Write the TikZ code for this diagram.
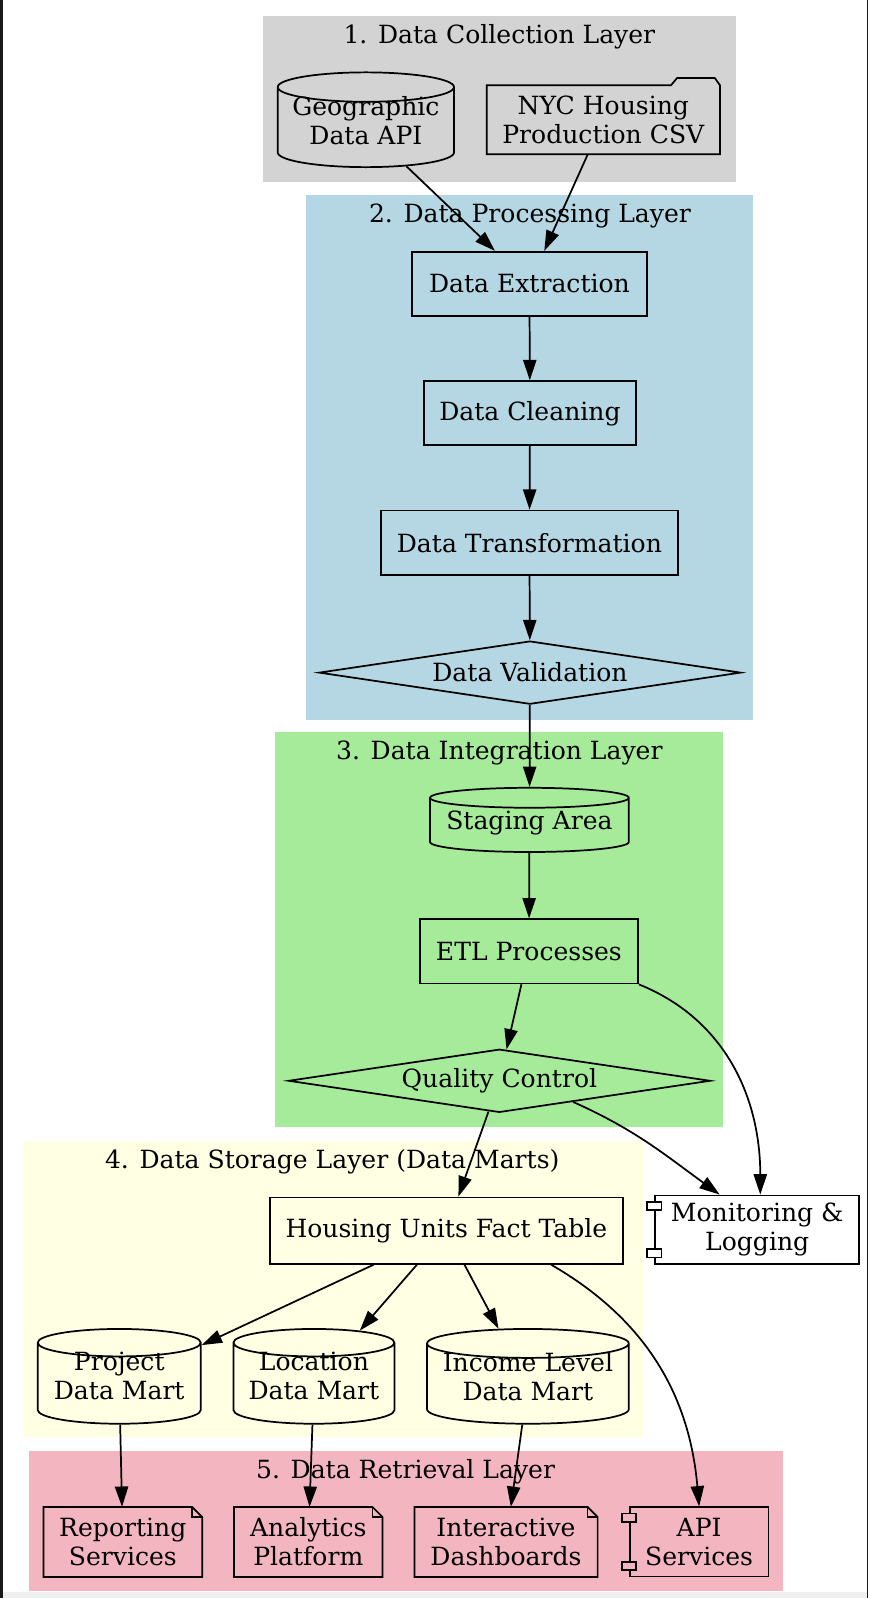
\documentclass[tikz,border=0pt]{standalone}
\usepackage{fontspec}
\setmainfont{DejaVu Serif}
\usetikzlibrary{shapes.geometric,arrows.meta}
\definecolor{collectgray}{HTML}{D3D3D3}
\definecolor{procblue}{HTML}{B4D7E3}
\definecolor{integgreen}{HTML}{A6EB9A}
\definecolor{storeyellow}{HTML}{FFFFE4}
\definecolor{retrpink}{HTML}{F3B6C1}
\newcommand{\dbtext}[2]{\raisebox{#1}[\dimexpr\height-2.5pt\relax][\dimexpr\depth-2.5pt\relax]{\begin{tabular}{@{}c@{}}#2\end{tabular}}}

\begin{document}
\begin{tikzpicture}[
		x=0.5pt, y=-0.5pt,
		font=\fontsize{12.3}{14.1}\selectfont,
		every node/.style={align=center, inner sep=0pt},
		box/.style={draw, line width=0.85pt, minimum height=31.5pt},
		db/.style={draw, line width=0.85pt, cylinder, shape border rotate=90, anchor=shape center},
		check/.style={draw, line width=0.85pt, diamond, aspect=6.7, minimum width=207pt, minimum height=31pt},
		flow/.style={line width=0.85pt, -{Triangle[length=10pt,width=6.5pt]}},
		outline/.style={line width=0.85pt},
	]
	\useasboundingbox (0,0) rectangle (852,1568);
	\fill[white] (0,0) rectangle (852,1568);
	\fill[black!90] (0,0) rectangle (3,1568);
	\fill[black!90] (851,0) rectangle (852,1568);
	\fill[black!6] (3,1562) rectangle (851,1568);

	\fill[collectgray] (258,16) rectangle (722,179);
	\fill[procblue] (300,191) rectangle (739,706);
	\fill[integgreen] (270,718) rectangle (709,1106);
	\fill[storeyellow] (23,1120) rectangle (631,1410);
	\fill[retrpink] (28,1424) rectangle (768,1561);
	\node (l1) at (490,36) {1. Data Collection Layer};
	\node (l2) at (520,212) {2. Data Processing Layer};
	\node (l3) at (490,739) {3. Data Integration Layer};
	\node (l4) at (326,1140) {4. Data Storage Layer (Data Marts)};
	\node (l5) at (398,1444) {5. Data Retrieval Layer};

	\node[db, fill=collectgray, minimum width=86.5pt, minimum height=46.5pt, aspect=0.2] (geo) at (359,117.5) {\dbtext{1.7pt}{Geographic\\Data API}};
	\node[minimum width=114pt, minimum height=33.5pt] (csv) at (592,117.5) {NYC Housing\\Production CSV};
	\node[box, fill=procblue, minimum width=115.5pt] (ext) at (519.5,278.5) {Data Extraction};
	\node[box, fill=procblue, minimum width=104pt] (cln) at (520,405.5) {Data Cleaning};
	\node[box, fill=procblue, minimum width=145.5pt] (trf) at (519.5,532.5) {Data Transformation};
	\node[check, fill=procblue] (val) at (520,660) {Data Validation};
	\node[db, fill=integgreen, minimum width=97.5pt, minimum height=31.5pt, aspect=0.12] (stg) at (519.5,804.5) {\dbtext{0.7pt}{Staging Area}};
	\node[box, fill=integgreen, minimum width=107pt] (etl) at (519,933.5) {ETL Processes};
	\node[check, fill=integgreen] (qc) at (490,1060.5) {Quality Control};
	\node[box, fill=white, minimum width=100pt, minimum height=33.5pt] (mon) at (743,1206.5) {Monitoring \&\\Logging};
	\node[box, fill=storeyellow, minimum width=173pt, minimum height=32.5pt] (fact) at (438,1207.5) {Housing Units Fact Table};
	\node[db, fill=storeyellow, minimum width=80pt, minimum height=46.5pt, aspect=0.21] (prj) at (117,1350.5) {\dbtext{2pt}{Project\\Data Mart}};
	\node[db, fill=storeyellow, minimum width=79pt, minimum height=46.5pt, aspect=0.21] (loc) at (308,1350.5) {\dbtext{2pt}{Location\\Data Mart}};
	\node[db, fill=storeyellow, minimum width=99pt, minimum height=46.5pt, aspect=0.17] (inc) at (518,1350.5) {\dbtext{2pt}{Income Level\\Data Mart}};
	\node[minimum width=77.5pt, minimum height=34pt] (rep) at (120.5,1513) {Reporting\\Services};
	\node[minimum width=72.5pt, minimum height=34pt] (ana) at (302.5,1513) {Analytics\\Platform};
	\node[minimum width=89.5pt, minimum height=34pt] (dsh) at (496.5,1513) {Interactive\\Dashboards};
	\node[box, fill=retrpink, minimum width=68pt, minimum height=34pt] (api) at (686,1513) {API\\Services};

	\draw[outline] (csv.south west) -- (csv.north west) -- ([xshift=-24pt]csv.north east) -- ([xshift=-21pt,yshift=3.5pt]csv.north east) -- ([xshift=-2.5pt,yshift=3.5pt]csv.north east) -- (csv.north east) -- (csv.south east) -- cycle;
	\foreach \n in {rep, ana, dsh} {
		\draw[outline] (\n.north west) -- ([xshift=-5pt]\n.north east) -- ([yshift=-5pt]\n.north east) -- (\n.south east) -- (\n.south west) -- cycle;
		\draw[outline] ([xshift=-5pt]\n.north east) |- ([yshift=-5pt]\n.north east);
	}
	\foreach \n/\c in {mon/white, api/retrpink} {
		\draw[outline, fill=\c] ([xshift=-3.5pt,yshift=-3.5pt]\n.north west) rectangle ++(7pt,-4pt);
		\draw[outline, fill=\c] ([xshift=-3.5pt,yshift=3.5pt]\n.south west) rectangle ++(7pt,4pt);
	}

	\draw[flow] (geo) -- (ext);
	\draw[flow] (csv) -- (ext);
	\draw[flow] (ext) -- (cln);
	\draw[flow] (cln) -- (trf);
	\draw[flow] (trf) -- (val);
	\draw[flow] (val) -- (stg);
	\draw[flow] (stg) -- (etl);
	\draw[flow] (etl) -- (qc);
	\draw[flow] (etl.south east) to[out=-22, in=90] ([xshift=1.5pt]mon.north);
	\draw[flow] (qc) -- (fact);
	\draw[flow] (qc.-16) to[out=-24, in=144] (mon.137);
	\draw[flow] (fact) -- (prj);
	\draw[flow] (fact) -- (loc);
	\draw[flow] (fact) -- (inc);
	\draw[flow] (fact.-18) to[out=-30, in=95] (api.north);
	\draw[flow] (prj) -- (rep);
	\draw[flow] (loc) -- (ana);
	\draw[flow] (inc) -- (dsh);
\end{tikzpicture}
\end{document}
